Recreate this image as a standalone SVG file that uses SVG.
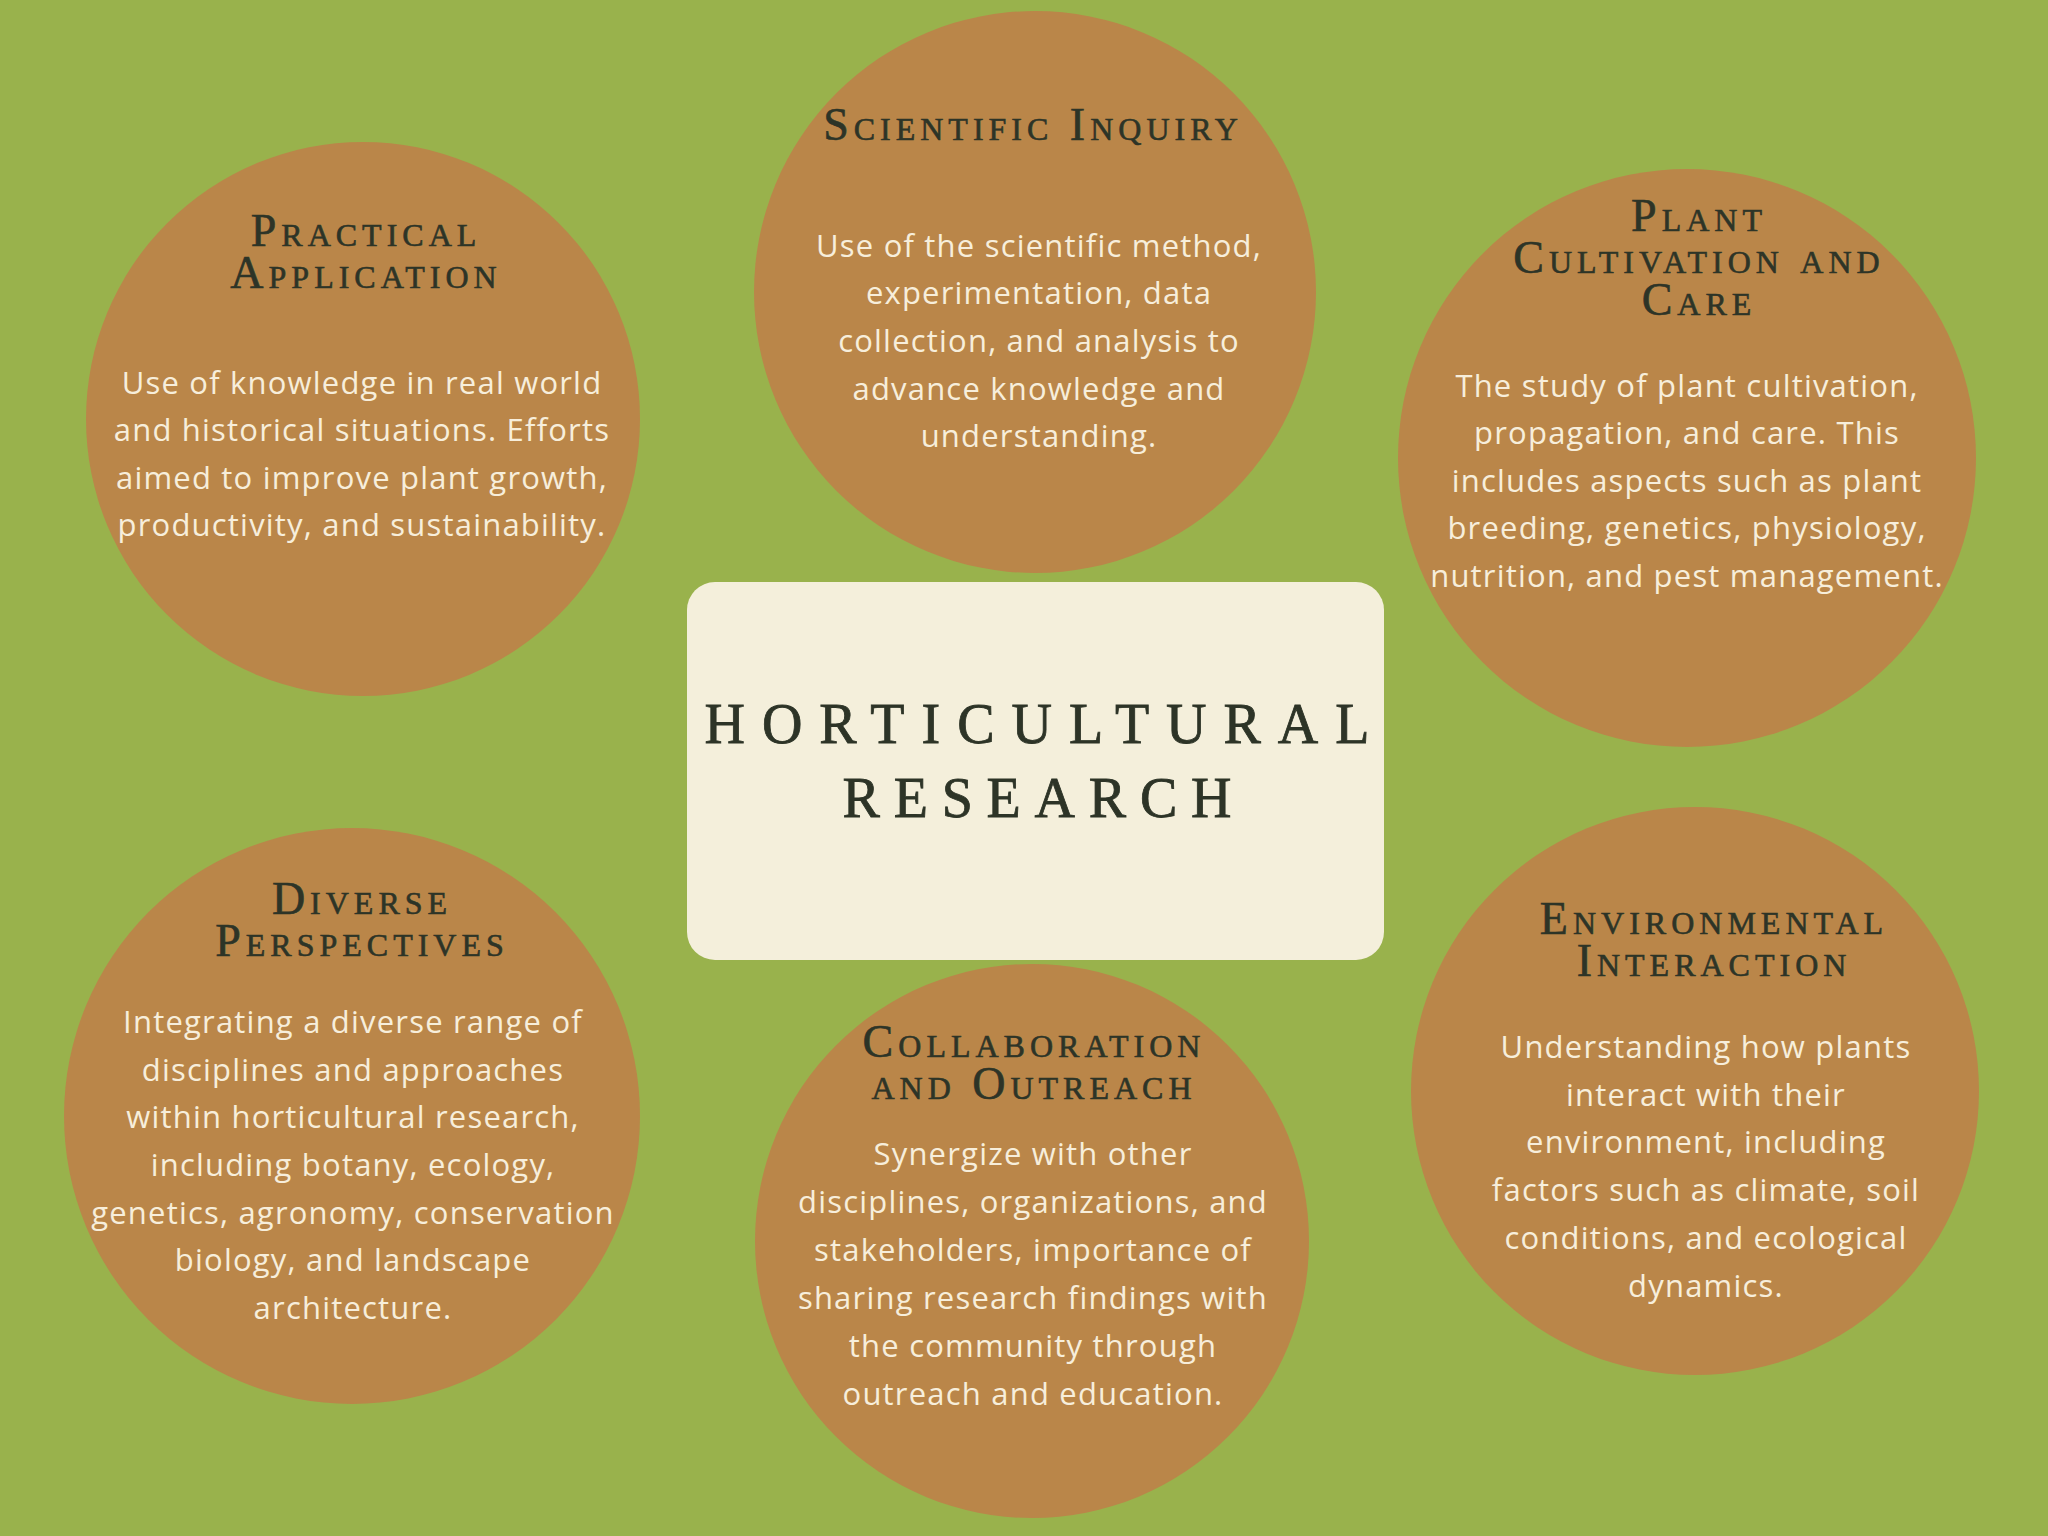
<svg xmlns="http://www.w3.org/2000/svg" width="2048" height="1536" viewBox="0 0 2048 1536">
<style>
.bg{fill:#99B24C}
.blob{fill:#BA8649}
.card{fill:#F4EFDB}
.hd{font-family:"Liberation Serif","Times New Roman",serif;font-size:46px;font-variant:small-caps;letter-spacing:5px;fill:#2D3427;stroke:#2D3427;stroke-width:0.6px;text-anchor:middle}
.tt{font-family:"Liberation Serif","Times New Roman",serif;font-size:56px;fill:#2D3427;stroke:#2D3427;stroke-width:0.8px;text-anchor:middle}
.bd{font-family:"Open Sans",Lato,sans-serif;font-weight:400;font-size:31px;letter-spacing:1.2px;fill:#F7EEDB;text-anchor:middle}
</style>
<rect class="bg" x="0" y="0" width="2048" height="1536"/>
<g id="connectors"/>
<g id="practical-application">
<circle class="blob" cx="363" cy="419" r="277"/>
<text class="hd"><tspan x="366" y="246">Practical</tspan><tspan x="366" y="288">Application</tspan></text>
<text class="bd"><tspan x="362" y="394">Use of knowledge in real world</tspan><tspan x="362" y="441">and historical situations. Efforts</tspan><tspan x="362" y="489">aimed to improve plant growth,</tspan><tspan x="362" y="536">productivity, and sustainability.</tspan></text>
</g>
<g id="scientific-inquiry">
<circle class="blob" cx="1035" cy="292" r="281"/>
<text class="hd" x="1033" y="140">Scientific Inquiry</text>
<text class="bd"><tspan x="1039" y="257">Use of the scientific method,</tspan><tspan x="1039" y="304">experimentation, data</tspan><tspan x="1039" y="352">collection, and analysis to</tspan><tspan x="1039" y="400">advance knowledge and</tspan><tspan x="1039" y="447">understanding.</tspan></text>
</g>
<g id="plant-cultivation">
<circle class="blob" cx="1687" cy="458" r="289"/>
<text class="hd"><tspan x="1699" y="231">Plant</tspan><tspan x="1699" y="273">Cultivation and</tspan><tspan x="1699" y="315">Care</tspan></text>
<text class="bd"><tspan x="1687" y="397">The study of plant cultivation,</tspan><tspan x="1687" y="444">propagation, and care. This</tspan><tspan x="1687" y="492">includes aspects such as plant</tspan><tspan x="1687" y="539">breeding, genetics, physiology,</tspan><tspan x="1687" y="587">nutrition, and pest management.</tspan></text>
</g>
<g id="horticultural-research">
<rect class="card" x="687" y="582" width="697" height="378" rx="28" ry="28"/>
<text class="tt" x="1037" y="743" textLength="665" lengthAdjust="spacing">HORTICULTURAL</text>
<text class="tt" x="1037" y="817" textLength="389" lengthAdjust="spacing">RESEARCH</text>
</g>
<g id="diverse-perspectives">
<circle class="blob" cx="352" cy="1116" r="288"/>
<text class="hd"><tspan x="362" y="914">Diverse</tspan><tspan x="362" y="956">Perspectives</tspan></text>
<text class="bd"><tspan x="353" y="1033">Integrating a diverse range of</tspan><tspan x="353" y="1081">disciplines and approaches</tspan><tspan x="353" y="1128">within horticultural research,</tspan><tspan x="353" y="1176">including botany, ecology,</tspan><tspan x="353" y="1224">genetics, agronomy, conservation</tspan><tspan x="353" y="1271">biology, and landscape</tspan><tspan x="353" y="1319">architecture.</tspan></text>
</g>
<g id="collaboration-outreach">
<circle class="blob" cx="1032" cy="1241" r="277"/>
<text class="hd"><tspan x="1034" y="1057">Collaboration</tspan><tspan x="1034" y="1099">and Outreach</tspan></text>
<text class="bd"><tspan x="1033" y="1165">Synergize with other</tspan><tspan x="1033" y="1213">disciplines, organizations, and</tspan><tspan x="1033" y="1261">stakeholders, importance of</tspan><tspan x="1033" y="1309">sharing research findings with</tspan><tspan x="1033" y="1357">the community through</tspan><tspan x="1033" y="1405">outreach and education.</tspan></text>
</g>
<g id="environmental-interaction">
<circle class="blob" cx="1695" cy="1091" r="284"/>
<text class="hd"><tspan x="1714" y="934">Environmental</tspan><tspan x="1714" y="976">Interaction</tspan></text>
<text class="bd"><tspan x="1706" y="1058">Understanding how plants</tspan><tspan x="1706" y="1106">interact with their</tspan><tspan x="1706" y="1153">environment, including</tspan><tspan x="1706" y="1201">factors such as climate, soil</tspan><tspan x="1706" y="1249">conditions, and ecological</tspan><tspan x="1706" y="1297">dynamics.</tspan></text>
</g>
</svg>
